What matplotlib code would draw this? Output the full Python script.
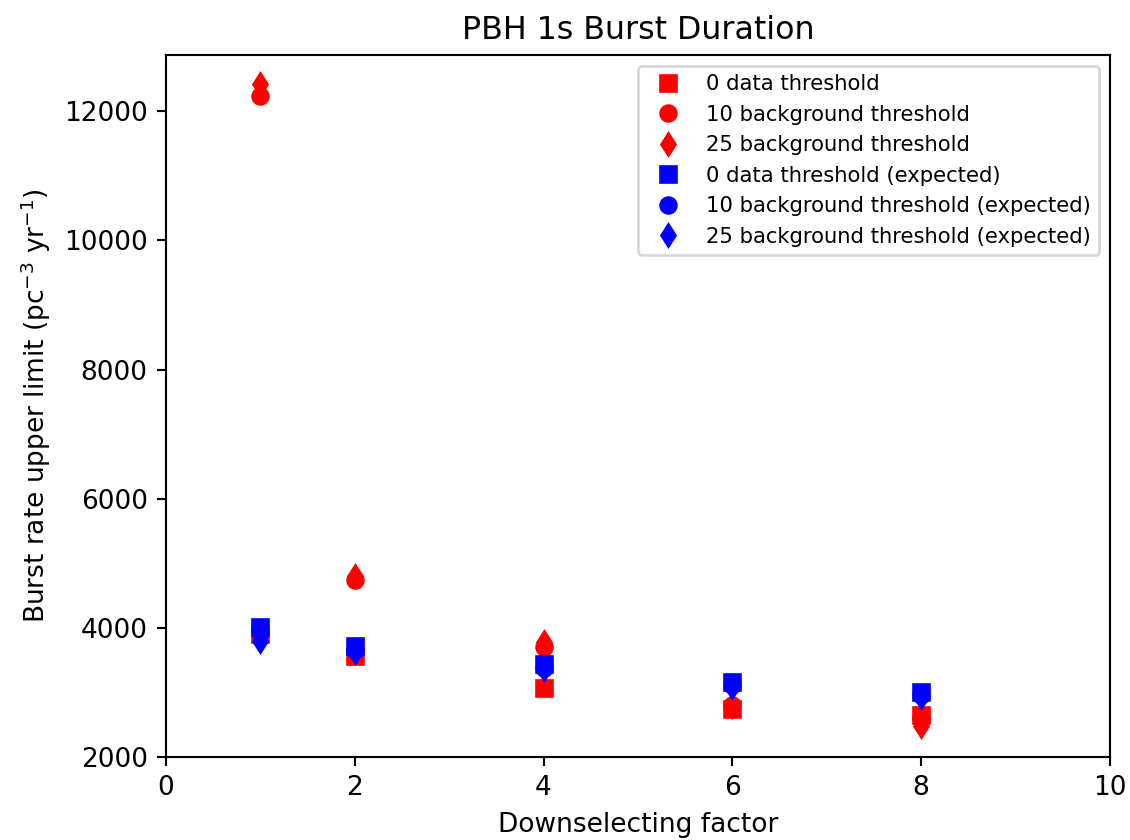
import matplotlib
matplotlib.use('Agg')
import matplotlib.pyplot as plt

# Downselecting factors and burst rate upper limits.
factors = [1, 2, 4, 6, 8]

data_0 = [3900, 3560, 3070, 2750, 2650]
bkg_10 = [12230, 4740, 3700, 2800, 2620]
bkg_25 = [12420, 4810, 3780, 2790, 2480]

exp_data_0 = [4010, 3720, 3440, 3160, 3000]
exp_bkg_10 = [3930, 3660, 3380, 3115, 2960]
exp_bkg_25 = [3800, 3630, 3360, 3085, 2930]

fig, ax = plt.subplots(figsize=(1130 / 190, 840 / 190), dpi=190)
fig.subplots_adjust(left=0.147, right=0.982, top=0.9345, bottom=0.0988)

ax.plot(factors, data_0, 'rs', label='0 data threshold')
ax.plot(factors, bkg_10, 'ro', label='10 background threshold')
ax.plot(factors, bkg_25, 'rd', label='25 background threshold')
ax.plot(factors, exp_data_0, 'bs', label='0 data threshold (expected)')
ax.plot(factors, exp_bkg_10, 'bo', label='10 background threshold (expected)')
ax.plot(factors, exp_bkg_25, 'bd', label='25 background threshold (expected)')

ax.set_xlim(0, 10)
ax.set_ylim(2000, 12870)

ax.set_title('PBH 1s Burst Duration')
ax.set_xlabel('Downselecting factor')
ax.set_ylabel('Burst rate upper limit (pc$^{-3}$ yr$^{-1}$)')
ax.legend(loc='upper right', fontsize=8)

fig.savefig('out.png', dpi=190)
